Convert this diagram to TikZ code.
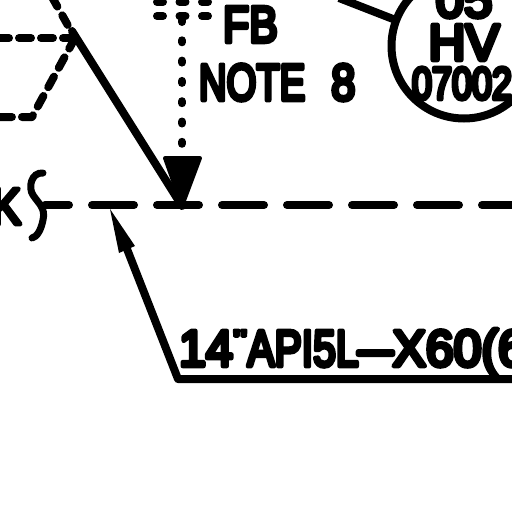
\documentclass[tikz,border=0pt]{standalone}
\usepackage{fontspec}
\newfontfamily\cadfont{Liberation Sans}
\newcommand{\cadstroke}[1]{\special{pdf:code q 2 Tr 4.6 w 1 j 1 J}#1\special{pdf:code Q}}
\tikzset{
    pipeline/.style={line width=8pt,line cap=round,line join=miter},
    hiddenline/.style={line width=8pt,line cap=round,dash pattern=on 6pt off 16.5pt},
    dotline/.style={line width=8pt,line cap=round,dash pattern=on 2pt off 18.3pt},
    maintext/.style={inner sep=0pt,outer sep=0pt,anchor=base west,font=\fontsize{51}{51}\cadfont},
    tagtext/.style={inner sep=0pt,outer sep=0pt,anchor=base,font=\fontsize{51}{51}\cadfont}
}
\begin{document}
\begin{tikzpicture}[x=1pt,y=-1pt]
    \useasboundingbox (0,0) rectangle (512,512);
    \clip (0,0) rectangle (512,512);
    % tag bubble
    \coordinate (bubble) at (464,46);
    \coordinate (tagend) at (339,-2);
    \coordinate (tagtouch) at (393,19);
    \draw[line width=8pt] (bubble) circle (72.5);
    \draw[line width=8pt] (tagend) -- (tagtouch);
    \node[tagtext] (tagtop) at (464,17) {\cadstroke{05}};
    \node[tagtext] (tagmid) at (464,60) {\cadstroke{HV}};
    \node[tagtext,font=\fontsize{45}{45}\cadfont] (tagnum) at (462,99) {\cadstroke{\scalebox{.8}[1]{07002}}};
    % notes
    \node[maintext] (fb) at (223,42) {\cadstroke{\scalebox{.84}[1]{FB}}};
    \node[maintext] (note) at (199,100) {\cadstroke{\scalebox{.75}[1]{NOTE}\hspace{26pt}\scalebox{.85}[1]{8}}};
    % left off-page valve
    \coordinate (apex) at (75,38);
    \coordinate (slant) at (32,117);
    \coordinate (topleft) at (52,-3);
    \coordinate (leftup) at (-3,38);
    \coordinate (leftdown) at (-3,117);
    \draw[line width=8pt,line cap=round,dash pattern=on 12pt off 10pt] (apex) -- (leftup);
    \draw[line width=8pt,line cap=round,dash pattern=on 12pt off 10pt,line join=round] (apex) -- (slant) -- (leftdown);
    \draw[line width=8pt,line cap=round,dash pattern=on 11pt off 10pt] (topleft) -- (apex);
    % leader into dashed line
    \coordinate (tip) at (182,206);
    \draw[pipeline] (72,31) -- (tip);
    \coordinate (arrowl) at (165,158);
    \coordinate (arrowr) at (200,158);
    \fill[line width=4pt,draw,line join=round] (arrowl) -- (arrowr) -- (tip) -- cycle;
    % dotted signal
    \coordinate (dotstart) at (182,20);
    \coordinate (dotend) at (182,146);
    \draw[dotline] (dotstart) -- (dotend);
    \foreach \y in {2,16} {
        \draw[hiddenline] (157,\y) -- (208,\y);
    }
    % underground line
    \coordinate (linestart) at (45,205);
    \coordinate (lineend) at (516,205);
    \draw[line width=8pt,line cap=round,dash pattern=on 42pt off 23pt,dash phase=18pt] (linestart) -- (lineend);
    \draw[line width=7pt,line cap=round] (43,173) .. controls (31,172) and (28,188) .. (33,195)
        .. controls (38,203) and (46,208) .. (43,220) .. controls (41,230) and (37,237) .. (32,238);
    \node[maintext,anchor=base east] (lk) at (21,224) {\cadstroke{\scalebox{.88}[1]{K}}};
    % pipe spec with leader
    \coordinate (corner) at (178,379);
    \coordinate (specend) at (516,379);
    \coordinate (spectip) at (110,209);
    \coordinate (headl) at (119,253);
    \coordinate (headr) at (135,246);
    \draw[pipeline,line join=round] (specend) -- (corner) -- (127,249);
    \fill (spectip) -- (headr) -- (headl) -- cycle;
    \node[maintext] (spec) at (179,366) {\cadstroke{\scalebox{.95}[1]{14}\raisebox{15pt}{\scalebox{.8}[.6]{"}}\scalebox{.8}[1]{API5L}\scalebox{1.2}[1]{–}\scalebox{.98}[1]{X60(6}}};
\end{tikzpicture}
\end{document}
